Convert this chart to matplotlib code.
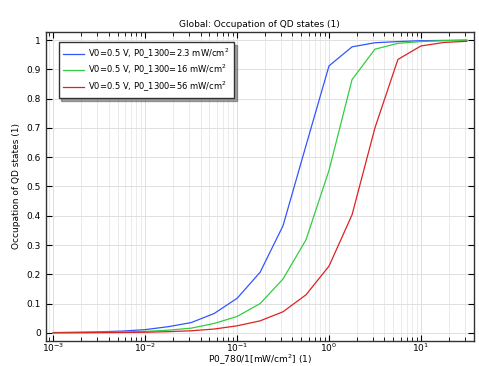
import numpy as np
import matplotlib.pyplot as plt
from matplotlib.ticker import LogLocator, NullFormatter

# P0_780 values (mW/cm^2), quarter-decade steps
p0_780 = [0.001, 0.00178, 0.00316, 0.00562, 0.01, 0.0178, 0.0316, 0.0562,
          0.1, 0.178, 0.316, 0.562, 1.0, 1.78, 3.16, 5.62, 10.0, 17.8, 31.6]

occ_23 = [0.001, 0.002, 0.0035, 0.006, 0.011, 0.021, 0.035, 0.066,
          0.118, 0.207, 0.366, 0.64, 0.912, 0.977, 0.991, 0.995, 0.998, 0.999, 1.0]
occ_16 = [0.0005, 0.001, 0.0018, 0.003, 0.005, 0.009, 0.016, 0.032,
          0.056, 0.100, 0.184, 0.318, 0.555, 0.865, 0.969, 0.989, 0.995, 0.998, 0.999]
occ_56 = [0.0002, 0.0004, 0.0007, 0.0012, 0.002, 0.004, 0.007, 0.013,
          0.024, 0.041, 0.072, 0.130, 0.228, 0.403, 0.70, 0.934, 0.980, 0.992, 0.996]

labels = ['V0=0.5 V, P0_1300=2.3 mW/cm$^2$',
          'V0=0.5 V, P0_1300=16 mW/cm$^2$',
          'V0=0.5 V, P0_1300=56 mW/cm$^2$']
colors = ['#3355ff', '#33cc44', '#dd2222']

fig = plt.figure(figsize=(4.79, 3.66), dpi=100)
ax = fig.add_axes([0.095, 0.069, 0.895, 0.843])

for y, lab, c in zip([occ_23, occ_16, occ_56], labels, colors):
    ax.plot(p0_780, y, color=c, lw=0.9, label=lab)

ax.set_xscale('log')
ax.set_xlim(10 ** -3.085, 10 ** 1.58)
ax.set_ylim(-0.027, 1.027)
ax.set_yticks(np.arange(0, 1.01, 0.1))
ax.set_yticklabels(['0', '0.1', '0.2', '0.3', '0.4', '0.5', '0.6', '0.7', '0.8', '0.9', '1'])
ax.xaxis.set_major_locator(LogLocator(base=10, numticks=10))
ax.xaxis.set_minor_locator(LogLocator(base=10, subs=np.arange(2, 10), numticks=20))
ax.xaxis.set_minor_formatter(NullFormatter())

ax.grid(True, which='major', color='#e0e0e0', lw=0.7)
ax.grid(True, which='minor', axis='x', color='#e8e8e8', lw=0.6)
ax.set_axisbelow(True)

ax.tick_params(which='both', direction='in', top=True, right=True, labelsize=6.5)
ax.tick_params(which='major', length=4, width=0.8)
ax.tick_params(which='minor', length=3, width=0.6)
ax.tick_params(axis='x', which='major', pad=0.5)
for s in ax.spines.values():
    s.set_linewidth(1.0)
    s.set_color('#333333')

ax.set_title('Global: Occupation of QD states (1)', fontsize=6.5, pad=4)
ax.set_xlabel('P0_780/1[mW/cm$^2$] (1)', fontsize=6.5)
ax.xaxis.set_label_coords(0.5, -0.061, transform=ax.transAxes)
ax.xaxis.label.set_va('center')
ax.set_ylabel('Occupation of QD states (1)', fontsize=6.5)

leg = ax.legend(loc='upper left', fontsize=6.0, fancybox=False, shadow=True,
                framealpha=1, edgecolor='#333333', borderpad=0.55,
                labelspacing=0.28, handlelength=2.5, handletextpad=0.5,
                bbox_to_anchor=(0.021, 0.982))
leg.get_frame().set_linewidth(1.0)

fig.savefig('out.png', dpi=100)
